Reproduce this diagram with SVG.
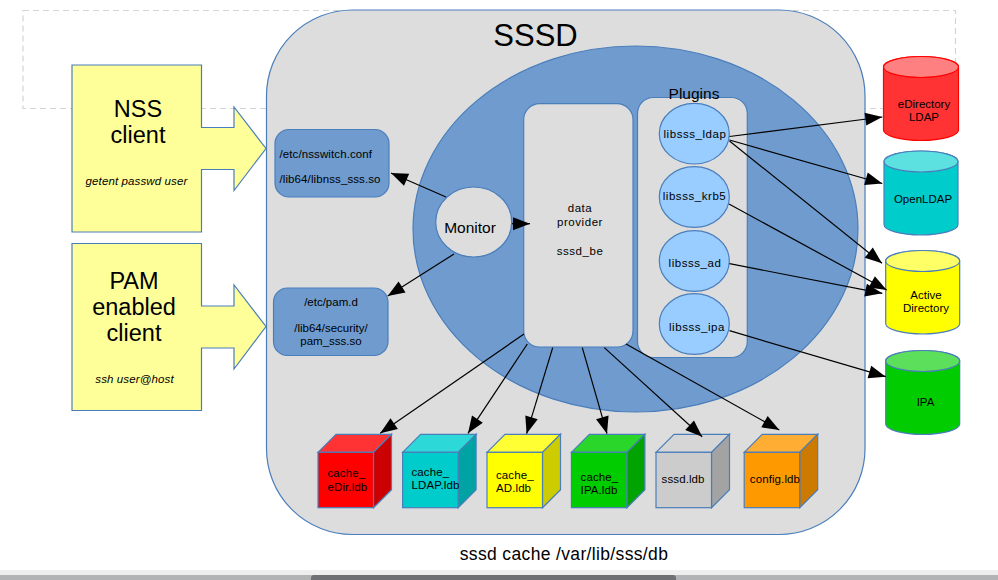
<svg xmlns="http://www.w3.org/2000/svg" width="998" height="580" viewBox="0 0 998 580">
<style>
text{font-family:"Liberation Sans",Arial,sans-serif;fill:#000;text-anchor:middle}
.s{stroke:#4a7ebb;stroke-width:1.2}
.c{stroke:#000;stroke-width:1.2;fill:none;marker-end:url(#a)}
.l{text-anchor:start;font-size:11.5px;letter-spacing:.1px}
.m{font-size:11.5px}
.w{font-size:11.5px;letter-spacing:.55px}
.y{fill:#ffff99}
.b{fill:#6f9bce}
.g{fill:#dddddd}
.p{fill:#99ccff}
.big{font-size:23.5px}
.i{font-size:11.5px;font-style:italic;letter-spacing:.12px}
</style>
<defs>
<marker id="a" markerUnits="userSpaceOnUse" markerWidth="18" markerHeight="14" refX="17" refY="6.500" orient="auto" overflow="visible">
<path d="M0,0L17,6.500L0,13Z" fill="#000"/>
</marker>
</defs>
<rect width="998" height="580" fill="#fff"/>
<rect id="frame" x="23" y="10.500" width="932.500" height="98" fill="none" stroke="#d4d4d4" stroke-width="1.200" stroke-dasharray="6 4"/>
<g id="sssd"><rect class="s g" x="266.500" y="10" width="598.500" height="524.500" rx="86" ry="86"/><text x="535.500" y="46" font-size="31">SSSD</text></g>
<g id="responder-area"><ellipse class="s b" cx="635.500" cy="229" rx="222.500" ry="183"/></g>
<g id="nss"><path class="s y" d="M72,65H201.500V127.500H234V107L266,148.500L234,190.500V169.500H201.500V232H72Z"/><text class="big" x="138" y="117">NSS</text><text class="big" x="138" y="143">client</text><text class="i" x="136.500" y="185">getent passwd user</text></g>
<g id="pam"><path class="s y" d="M72,243.500H201.500V306H234V285L266,326.500L234,369V348H201.500V410.500H72Z"/><text class="big" x="134" y="289">PAM</text><text class="big" x="134" y="315">enabled</text><text class="big" x="134" y="341">client</text><text class="i" x="134.500" y="383">ssh user@host</text></g>
<g id="nsswitch"><rect class="s b" x="275" y="129.500" width="114" height="67.500" rx="14"/><text class="l" x="279.500" y="158">/etc/nsswitch.conf</text><text class="l" x="279.500" y="183">/lib64/libnss_sss.so</text></g>
<g id="pamd"><rect class="s b" x="273.500" y="288" width="114.500" height="67.500" rx="14"/><text class="m" x="331" y="306">/etc/pam.d</text><text class="m" x="331" y="332">/lib64/security/</text><text class="m" x="331" y="345">pam_sss.so</text></g>
<g id="monitor"><ellipse class="s g" cx="473.700" cy="222" rx="38" ry="35"/><text x="470" y="232.500" font-size="15.500">Monitor</text></g>
<g id="provider"><rect class="s g" x="523.700" y="103.700" width="109.300" height="243.300" rx="16"/><text class="w" x="580" y="212">data</text><text class="w" x="580" y="226">provider</text><text class="w" x="580" y="255">sssd_be</text></g>
<g id="plugins"><rect class="s g" x="637.500" y="97.500" width="109.800" height="260" rx="16"/><text x="694" y="99" font-size="15.500">Plugins</text></g>
<g id="libsss_ldap"><ellipse class="s p" cx="694.300" cy="133.700" rx="35" ry="30.300"/><text class="w" x="695" y="138">libsss_ldap</text></g>
<g id="libsss_krb5"><ellipse class="s p" cx="694.300" cy="197" rx="35" ry="30.300"/><text class="w" x="694.500" y="200">libsss_krb5</text></g>
<g id="libsss_ad"><ellipse class="s p" cx="694.300" cy="261" rx="35" ry="30.300"/><text class="w" x="695" y="267">libsss_ad</text></g>
<g id="libsss_ipa"><ellipse class="s p" cx="694.300" cy="324" rx="35" ry="30.300"/><text class="w" x="697" y="331">libsss_ipa</text></g>
<g id="edirectory"><path d="M883.500,67a37.500,10.500 0 0 1 75,0V130a37.500,10.500 0 0 1 -75,0Z" fill="#ff3333" stroke="#ff0000" stroke-width="1.200"/><ellipse cx="921" cy="67" rx="37.500" ry="10.500" fill="#ff8080" stroke="#ff0000" stroke-width="1.200"/><text class="m" x="924" y="108">eDirectory</text><text class="m" x="924" y="121">LDAP</text></g>
<g id="openldap"><path class="s" d="M884,161.500a37,10.500 0 0 1 74,0V224.500a37,10.500 0 0 1 -74,0Z" fill="#00cccc"/><ellipse class="s" cx="921" cy="161.500" rx="37" ry="10.500" fill="#5ce0e0"/><text class="m" x="923" y="203">OpenLDAP</text></g>
<g id="activedirectory"><path class="s" d="M885.700,261a37,10.500 0 0 1 74,0V323.500a37,10.500 0 0 1 -74,0Z" fill="#ffff00"/><ellipse class="s" cx="922.700" cy="261" rx="37" ry="10.500" fill="#ffff66"/><text class="m" x="926" y="299">Active</text><text class="m" x="926" y="312">Directory</text></g>
<g id="ipa"><path class="s" d="M885.700,361a37,10.500 0 0 1 74,0V424a37,10.500 0 0 1 -74,0Z" fill="#00cc00"/><ellipse class="s" cx="922.700" cy="361" rx="37" ry="10.500" fill="#5ce05c"/><text class="m" x="925.500" y="406">IPA</text></g>
<g id="cache_edir"><path class="s" d="M318,452.300L336,434.300H391.500L373.500,452.300Z" fill="#ff3333"/><path class="s" d="M373.500,452.300L391.500,434.300V489.700L373.500,507.700Z" fill="#cc0000"/><rect class="s" x="318" y="452.300" width="55.500" height="55.400" fill="#ff0000"/><text class="l" x="327.500" y="477">cache_</text><text class="l" x="327.500" y="491">eDir.ldb</text></g>
<g id="cache_ldap"><path class="s" d="M402.600,452.300L420.600,434.300H476.100L458.100,452.300Z" fill="#2dd8d8"/><path class="s" d="M458.100,452.300L476.100,434.300V489.700L458.100,507.700Z" fill="#00a3a3"/><rect class="s" x="402.600" y="452.300" width="55.500" height="55.400" fill="#00cccc"/><text class="l" x="411.500" y="476">cache_</text><text class="l" x="411.500" y="489">LDAP.ldb</text></g>
<g id="cache_ad"><path class="s" d="M487,452.300L505,434.300H560.500L542.500,452.300Z" fill="#ffff33"/><path class="s" d="M542.500,452.300L560.500,434.300V489.700L542.500,507.700Z" fill="#cccc00"/><rect class="s" x="487" y="452.300" width="55.500" height="55.400" fill="#ffff00"/><text class="l" x="496" y="479">cache_</text><text class="l" x="496" y="492">AD.ldb</text></g>
<g id="cache_ipa"><path class="s" d="M571.400,452.300L589.400,434.300H644.900L626.900,452.300Z" fill="#2bd62b"/><path class="s" d="M626.900,452.300L644.900,434.300V489.700L626.900,507.700Z" fill="#00a300"/><rect class="s" x="571.400" y="452.300" width="55.500" height="55.400" fill="#00cc00"/><text class="l" x="580.600" y="481">cache_</text><text class="l" x="580.600" y="494">IPA.ldb</text></g>
<g id="sssd_ldb"><path class="s" d="M656,452.300L674,434.300H729.500L711.500,452.300Z" fill="#d6d6d6"/><path class="s" d="M711.500,452.300L729.500,434.300V489.700L711.500,507.700Z" fill="#a3a3a3"/><rect class="s" x="656" y="452.300" width="55.500" height="55.400" fill="#cccccc"/><text class="l" x="661.600" y="483">sssd.ldb</text></g>
<g id="config_ldb"><path class="s" d="M744.200,452.300L762.200,434.300H817.700L799.700,452.300Z" fill="#ffad33"/><path class="s" d="M799.700,452.300L817.700,434.300V489.700L799.700,507.700Z" fill="#cc7a00"/><rect class="s" x="744.200" y="452.300" width="55.500" height="55.400" fill="#ff9900"/><text class="l" x="749.800" y="483">config.ldb</text></g>
<g id="connectors">
<line class="c" x1="446" y1="197" x2="391" y2="173"/>
<line class="c" x1="454" y1="254" x2="387.700" y2="296"/>
<line class="c" x1="512" y1="223.700" x2="530" y2="223.700"/>
<line class="c" x1="524" y1="334" x2="380.200" y2="433.300"/>
<line class="c" x1="527.300" y1="344" x2="468" y2="433.300"/>
<line class="c" x1="552.700" y1="347.600" x2="526.600" y2="433.700"/>
<line class="c" x1="582.300" y1="347.600" x2="607" y2="433.700"/>
<line class="c" x1="604.300" y1="347.600" x2="702.200" y2="436.700"/>
<line class="c" x1="626" y1="344" x2="779.300" y2="430"/>
<line class="c" x1="729.500" y1="136.500" x2="882.300" y2="117"/>
<line class="c" x1="729.500" y1="140" x2="882.300" y2="183.500"/>
<line class="c" x1="729.500" y1="141" x2="882" y2="263.300"/>
<line class="c" x1="729" y1="204" x2="886.700" y2="290"/>
<line class="c" x1="729.500" y1="263.700" x2="882.300" y2="293.300"/>
<line class="c" x1="729.500" y1="330.700" x2="885.700" y2="376.700"/>
</g>
<text x="564" y="560" font-size="17.500" letter-spacing=".35">sssd cache /var/lib/sss/db</text>
<rect x="0" y="570" width="998" height="10" fill="#eeeeee"/>
<rect x="0" y="575" width="998" height="5" fill="#b2b3b5"/>
<path d="M311,580V578a3,3 0 0 1 3,-3H673a3,3 0 0 1 3,3V580Z" fill="#6f7074"/>
</svg>
